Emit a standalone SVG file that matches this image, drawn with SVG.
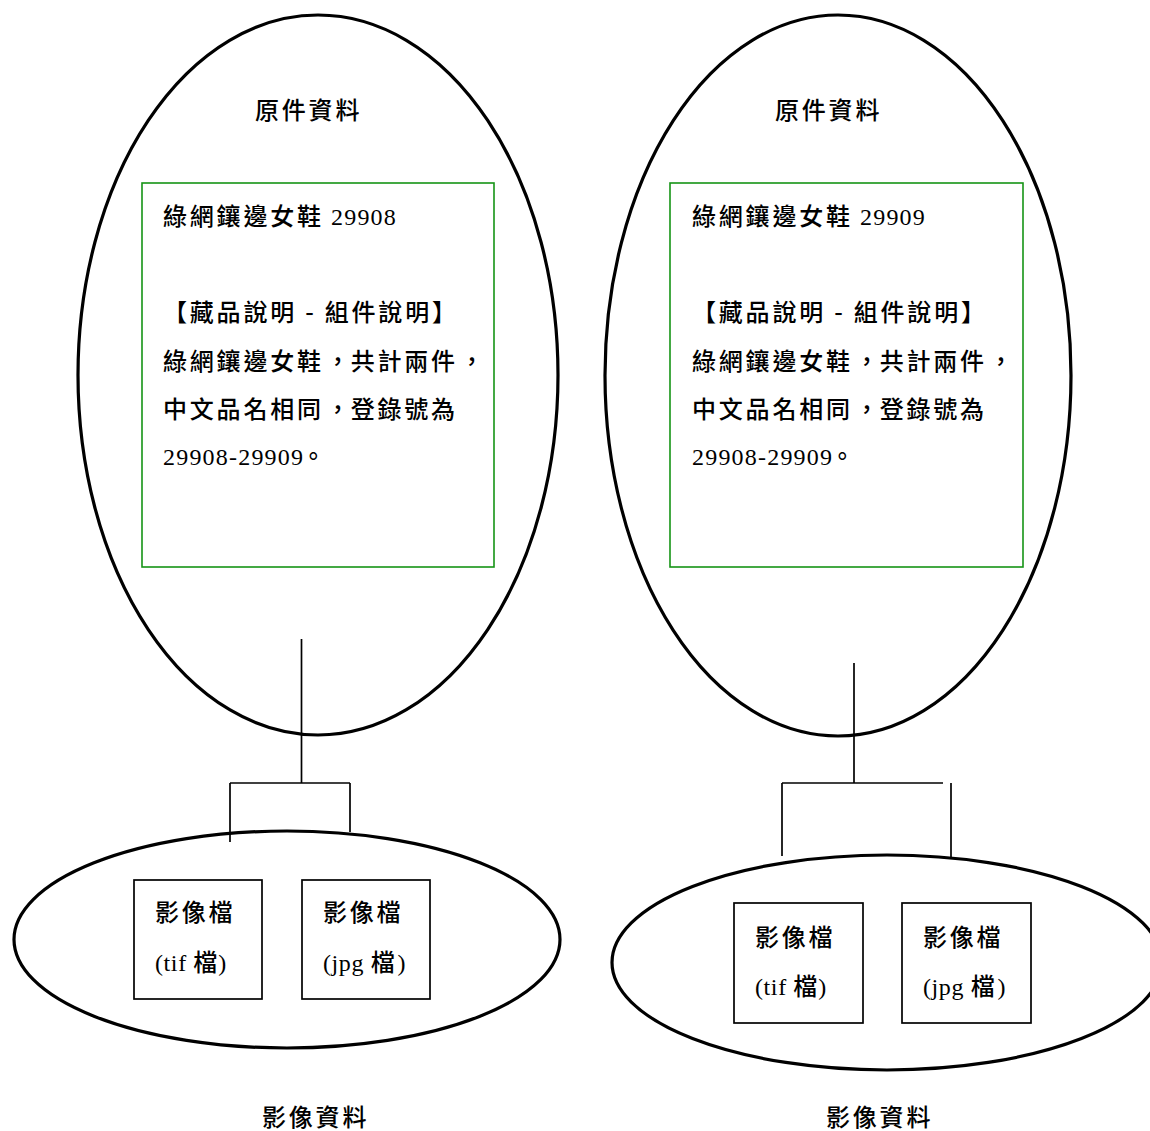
<svg xmlns="http://www.w3.org/2000/svg" width="1150" height="1131" viewBox="0 0 1150 1131" xml:lang="zh-TW" lang="zh-TW">
<style>
  .oval { fill: none; stroke: #000; stroke-width: 3.2; }
  .green { fill: #fff; stroke: #169416; stroke-width: 1.6; }
  .box { fill: #fff; stroke: #000; stroke-width: 1.7; }
  .conn line { stroke: #000; stroke-width: 1.7; }
  text { font-family: "Noto Sans CJK TC", "Noto Sans CJK SC", sans-serif; font-size: 24px; font-weight: 500; fill: #000; letter-spacing: 2.8px; }
  .num { font-family: "Liberation Serif", serif; font-weight: 400; letter-spacing: 1.2px; }
  .lat { font-family: "Liberation Serif", serif; font-weight: 400; letter-spacing: 0.6px; }
</style>
<rect width="1150" height="1131" fill="#fff"/>

<!-- Left original-data node -->
<g id="orig-left">
  <ellipse class="oval" cx="318" cy="375" rx="240" ry="360"/>
  <text x="255" y="119">原件資料</text>
  <rect class="green" x="142" y="183" width="352" height="384"/>
  <text x="163" y="225">綠網鑲邊女鞋<tspan class="num"> 29908</tspan></text>
  <text x="163" y="321">【藏品說明 - 組件說明】</text>
  <text x="163" y="370">綠網鑲邊女鞋<tspan dx="2">，</tspan><tspan dx="-2">共計兩件</tspan><tspan dx="2">，</tspan></text>
  <text x="163" y="418">中文品名相同<tspan dx="2">，</tspan><tspan dx="-2">登錄號為</tspan></text>
  <text x="163" y="465"><tspan class="num">29908-29909</tspan><tspan dx="-3">。</tspan></text>
</g>

<!-- Right original-data node -->
<g id="orig-right">
  <ellipse class="oval" cx="838" cy="375.5" rx="233" ry="360.5"/>
  <text x="775" y="119">原件資料</text>
  <rect class="green" x="670" y="183" width="353" height="384"/>
  <text x="692" y="225">綠網鑲邊女鞋<tspan class="num"> 29909</tspan></text>
  <text x="692" y="321">【藏品說明 - 組件說明】</text>
  <text x="692" y="370">綠網鑲邊女鞋<tspan dx="2">，</tspan><tspan dx="-2">共計兩件</tspan><tspan dx="2">，</tspan></text>
  <text x="692" y="418">中文品名相同<tspan dx="2">，</tspan><tspan dx="-2">登錄號為</tspan></text>
  <text x="692" y="465"><tspan class="num">29908-29909</tspan><tspan dx="-3">。</tspan></text>
</g>

<!-- Left image-data node -->
<g id="image-left">
  <ellipse class="oval" cx="287" cy="939.5" rx="273" ry="108.5"/>
  <text x="262" y="1126">影像資料</text>
</g>
<g id="tif-left">
  <rect class="box" x="134" y="880" width="128" height="119"/>
  <text x="155" y="921">影像檔</text>
  <text x="155" y="971"><tspan class="lat">(tif </tspan><tspan letter-spacing="1">檔</tspan><tspan class="lat">)</tspan></text>
</g>
<g id="jpg-left">
  <rect class="box" x="302" y="880" width="128" height="119"/>
  <text x="323" y="921">影像檔</text>
  <text x="323" y="971"><tspan class="lat">(jpg </tspan>檔<tspan class="lat">)</tspan></text>
</g>

<!-- Right image-data node -->
<g id="image-right">
  <ellipse class="oval" cx="887" cy="962.5" rx="275" ry="107.5"/>
  <text x="826" y="1126">影像資料</text>
</g>
<g id="tif-right">
  <rect class="box" x="734" y="903" width="129" height="120"/>
  <text x="755" y="946">影像檔</text>
  <text x="755" y="995"><tspan class="lat">(tif </tspan><tspan letter-spacing="1">檔</tspan><tspan class="lat">)</tspan></text>
</g>
<g id="jpg-right">
  <rect class="box" x="902" y="903" width="129" height="120"/>
  <text x="923" y="946">影像檔</text>
  <text x="923" y="995"><tspan class="lat">(jpg </tspan>檔<tspan class="lat">)</tspan></text>
</g>

<!-- Connectors -->
<g id="connectors" class="conn">
  <line x1="301.5" y1="639" x2="301.5" y2="783"/>
  <line x1="230" y1="783" x2="350" y2="783"/>
  <line x1="230" y1="783" x2="230" y2="842"/>
  <line x1="350" y1="783" x2="350" y2="832"/>
  <line x1="854" y1="663" x2="854" y2="783"/>
  <line x1="782" y1="783" x2="943" y2="783"/>
  <line x1="782" y1="783" x2="782" y2="856"/>
  <line x1="951" y1="783" x2="951" y2="857"/>
</g>
</svg>
